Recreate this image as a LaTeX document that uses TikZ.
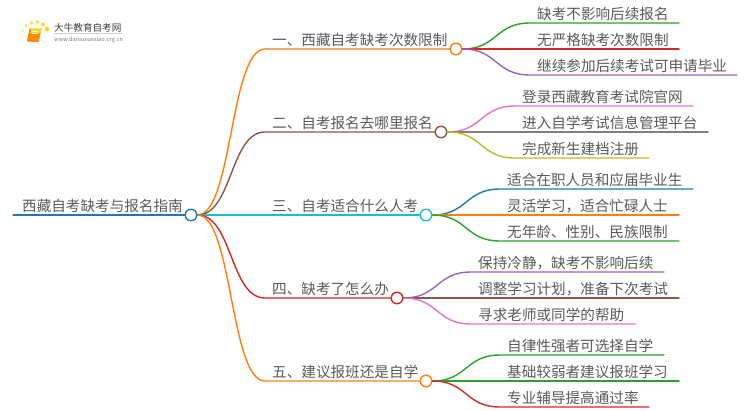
\documentclass[tikz,border=0pt]{standalone}
\usepackage{fontspec}
\setmainfont{Noto Sans CJK SC}[Scale=1.0]
\definecolor{tOrange}{HTML}{FF7F0E}
\definecolor{tBrown}{HTML}{8C564B}
\definecolor{tCyan}{HTML}{17BECF}
\definecolor{tRed}{HTML}{D62728}
\definecolor{tBlue}{HTML}{1F77B4}
\definecolor{tGreen}{HTML}{2CA02C}
\definecolor{tPurple}{HTML}{9467BD}
\definecolor{tPink}{HTML}{E377C2}
\definecolor{tGray}{HTML}{7F7F7F}
\definecolor{tOlive}{HTML}{BCBD22}
\definecolor{txt}{HTML}{5A5A5A}
\tikzset{
  label/.style={anchor=base west,inner sep=0pt,text=txt,font=\fontsize{14.6}{16}\selectfont},
  hub/.style={circle,draw=#1,fill=white,line width=1.4pt,minimum size=11.5pt,inner sep=0pt},
  wire/.style={draw=#1,line width=1.4pt,line cap=round},
  dot/.style={circle,fill=#1,inner sep=0pt},
}
% name, parent, bend start x, y, end x, text x, colour, text
\newcommand{\leafitem}[8]{%
  \coordinate (#1s) at (#3,#4);
  \coordinate (#1e) at (#5,#4);
  \draw[wire=#7] (#2.east) .. controls +(35,0) and +(-35,0) .. (#1s) -- (#1e);
  \node[label] (#1) at (#6,#4-4) {#8};
}
\newcommand{\branchitem}[7]{%
  \coordinate (#1s) at (265,#3);
  \node[hub=#5] (#1) at (#4,#3) {};
  \begin{pgfonlayer}{bg}
  \draw[wire=#5] (root.east) .. controls +(35,0) and +(-35,0) .. (#1s) -- (#1.west);
  \end{pgfonlayer}
  \node[label] (#1t) at (272,#3-4) {#6};
}
\pgfdeclarelayer{bg}
\pgfsetlayers{bg,main}
\begin{document}
\begin{tikzpicture}[x=1pt,y=-1pt]
\useasboundingbox (0,0) rectangle (750,410);
\begin{pgfonlayer}{bg}
\fill[white] (0,0) rectangle (750,410);
\end{pgfonlayer}

% logo
\node[dot=yellow!70!orange,minimum size=4.5pt] (d1) at (47,29) {};
\node[dot=yellow!70!orange!85,minimum size=4pt] (d2) at (43,24.5) {};
\node[dot=yellow!70!orange!80,minimum size=3.8pt] (d3) at (37.5,22) {};
\node[dot=yellow!70!orange!70,minimum size=3.6pt] (d4) at (31.5,23) {};
\node[dot=yellow!70!orange!55,minimum size=3.2pt] (d5) at (26,25.5) {};
\node[dot=yellow!70!orange!40,minimum size=2.8pt] (d6) at (22.5,30.5) {};
\node[dot=yellow!70!orange!30,minimum size=2.4pt] (d7) at (21.5,36.5) {};
\node[dot=yellow!70!orange!20,minimum size=2pt] (d8) at (23.5,42.5) {};
\fill[orange!90!yellow] (30,28.5) -- (41.5,28.5) -- (39,41) -- (27.5,41) -- cycle;
\fill[yellow!80!orange] (31,28.5) -- (41.5,28.5) -- (40.5,33) -- (30,33) -- cycle;
\draw[orange!90!red,line width=0.8pt] (30,29) -- (27.5,41) -- (39,41.8);
\draw[white,line width=0.5pt] (32,31) -- (38,31) (31.5,33) -- (37.5,33);
\node[anchor=base west,inner sep=0pt,text=black!75,font=\fontsize{9.6}{11}\selectfont] (logoa) at (54,31) {大牛教育自考网};
\draw[black!20,line width=0.4pt] (54,33.5) -- (122,33.5);
\node[anchor=base west,inner sep=0pt,text=black!50,font=\fontsize{5.7}{7}\selectfont] (logob) at (54,41) {www.daniuxuexiao.org.cn};

% root
\coordinate (rootw) at (13,215);
\node[hub=tBlue] (root) at (191,215) {};
\begin{pgfonlayer}{bg}
\draw[wire=tBlue] (rootw) -- (root.west);
\end{pgfonlayer}
\node[label] (roott) at (22,211) {西藏自考缺考与报名指南};

% branches
\branchitem{b1}{root}{49}{456}{tOrange}{一、西藏自考缺考次数限制}{}
\branchitem{b2}{root}{132}{441}{tBrown}{二、自考报名去哪里报名}{}
\branchitem{b3}{root}{215}{426}{tCyan}{三、自考适合什么人考}{}
\branchitem{b4}{root}{298}{397}{tRed}{四、缺考了怎么办}{}
\branchitem{b5}{root}{381}{426}{tOrange}{五、建议报班还是自学}{}

% leaves
\leafitem{l11}{b1}{530}{23}{679}{537}{tGreen}{缺考不影响后续报名}
\leafitem{l12}{b1}{530}{49}{679}{537}{tRed}{无严格缺考次数限制}
\leafitem{l13}{b1}{530}{75}{737}{537}{tPurple}{继续参加后续考试可申请毕业}
\leafitem{l21}{b2}{515}{106}{693}{522}{tPink}{登录西藏教育考试院官网}
\leafitem{l22}{b2}{515}{132}{708}{522}{tGray}{进入自学考试信息管理平台}
\leafitem{l23}{b2}{515}{158}{649}{522}{tOlive}{完成新生建档注册}
\leafitem{l31}{b3}{500}{189}{693}{507}{tBlue}{适合在职人员和应届毕业生}
\leafitem{l32}{b3}{500}{215}{679}{507}{tOrange}{灵活学习，适合忙碌人士}
\leafitem{l33}{b3}{500}{241}{679}{507}{tGreen}{无年龄、性别、民族限制}
\leafitem{l41}{b4}{471}{272}{664}{478}{tPurple}{保持冷静，缺考不影响后续}
\leafitem{l42}{b4}{471}{298}{679}{478}{tBrown}{调整学习计划，准备下次考试}
\leafitem{l43}{b4}{471}{324}{635}{478}{tPink}{寻求老师或同学的帮助}
\leafitem{l51}{b5}{500}{355}{664}{507}{tGreen}{自律性强者可选择自学}
\leafitem{l52}{b5}{500}{381}{679}{507}{tGreen}{基础较弱者建议报班学习}
\leafitem{l53}{b5}{500}{407}{649}{507}{tRed}{专业辅导提高通过率}
\end{tikzpicture}
\end{document}
